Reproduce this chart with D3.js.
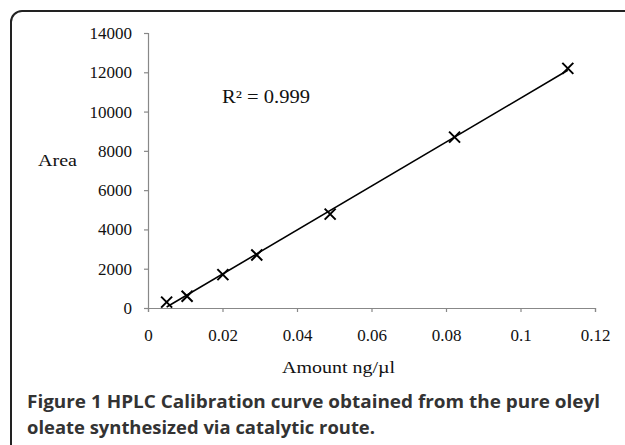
<!DOCTYPE html>
<html><head><meta charset="utf-8">
<script src="https://cdn.jsdelivr.net/npm/d3@7"></script>
<style>body{margin:0;background:#fff}svg{display:block}</style>
</head><body>
<script>
const amounts = [0.005, 0.0105, 0.0201, 0.0292, 0.0489, 0.0823, 0.1127];
const areas = [300, 600, 1700, 2700, 4780, 8700, 12200];
const xTicks = [0, 0.02, 0.04, 0.06, 0.08, 0.1, 0.12];
const yTicks = [0, 2000, 4000, 6000, 8000, 10000, 12000, 14000];
const captionLines = ["Figure 1 HPLC Calibration curve obtained from the pure oleyl", "oleate synthesized via catalytic route."];

const W = 625, H = 445;
const svg = d3.select("body").append("svg").attr("width", W).attr("height", H);

svg.append("rect").attr("x", 11).attr("y", 11).attr("width", 700).attr("height", 500)
  .attr("rx", 11).attr("fill", "#fff").attr("stroke", "#222").attr("stroke-width", 2);

const x = d3.scaleLinear().domain([0, 0.12]).range([148, 595]);
const y = d3.scaleLinear().domain([0, 14000]).range([308, 33]);

const serif = "'Liberation Serif','Times New Roman',serif";

const xAxis = svg.append("g").attr("transform", "translate(0,308)")
  .call(d3.axisBottom(x).tickValues(xTicks).tickSize(4).tickPadding(17).tickFormat(d => d3.format("~g")(d)));
const yAxis = svg.append("g").attr("transform", "translate(148,0)")
  .call(d3.axisLeft(y).tickValues(yTicks).tickSize(4).tickPadding(12).tickFormat(d3.format("d")));
[xAxis, yAxis].forEach(g => {
  g.select(".domain").attr("stroke", "#888").attr("stroke-width", 1.2);
  g.selectAll(".tick line").attr("stroke", "#888").attr("stroke-width", 1.2);
  g.selectAll(".tick text").attr("font-family", serif).attr("font-size", 17).attr("fill", "#111");
});

// linear regression trendline
const n = amounts.length;
const mx = d3.mean(amounts), my = d3.mean(areas);
let sxy = 0, sxx = 0;
for (let i = 0; i < n; i++) { sxy += (amounts[i]-mx)*(areas[i]-my); sxx += (amounts[i]-mx)**2; }
const slope = sxy / sxx, icpt = my - slope * mx;
const x0 = d3.min(amounts), x1 = d3.max(amounts);
svg.append("line").attr("x1", x(x0)).attr("y1", y(slope*x0+icpt)).attr("x2", x(x1)).attr("y2", y(slope*x1+icpt))
  .attr("stroke", "#000").attr("stroke-width", 1.5);

const s = 5.5;
svg.append("g").selectAll("path").data(amounts).join("path")
  .attr("d", (d, i) => {
    const cx = x(d), cy = y(areas[i]);
    return `M${cx-s},${cy-s}L${cx+s},${cy+s}M${cx-s},${cy+s}L${cx+s},${cy-s}`;
  })
  .attr("stroke", "#000").attr("stroke-width", 2).attr("fill", "none");

svg.append("text").attr("x", 222).attr("y", 103).attr("font-family", serif).attr("font-size", 18)
  .attr("textLength", 88).attr("lengthAdjust", "spacingAndGlyphs")
  .attr("fill", "#111").text("R² = 0.999");

svg.append("text").attr("x", 38).attr("y", 166).attr("font-family", serif).attr("font-size", 17.5)
  .attr("textLength", 39).attr("lengthAdjust", "spacingAndGlyphs")
  .attr("fill", "#111").text("Area");

svg.append("text").attr("x", 282).attr("y", 373).attr("font-family", serif)
  .attr("textLength", 113).attr("lengthAdjust", "spacingAndGlyphs")
  .attr("font-size", 17.5).attr("fill", "#111").text("Amount ng/µl");

const capW = [573, 348];
svg.append("g").selectAll("text").data(captionLines).join("text")
  .attr("x", 27).attr("y", (d, i) => 408 + i * 26)
  .attr("font-family", "'Open Sans','Noto Sans',sans-serif").attr("font-size", 18).attr("font-weight", "bold")
  .attr("textLength", (d, i) => capW[i]).attr("lengthAdjust", "spacingAndGlyphs")
  .attr("fill", "#333")
  .text(d => d);
</script>
</body></html>
